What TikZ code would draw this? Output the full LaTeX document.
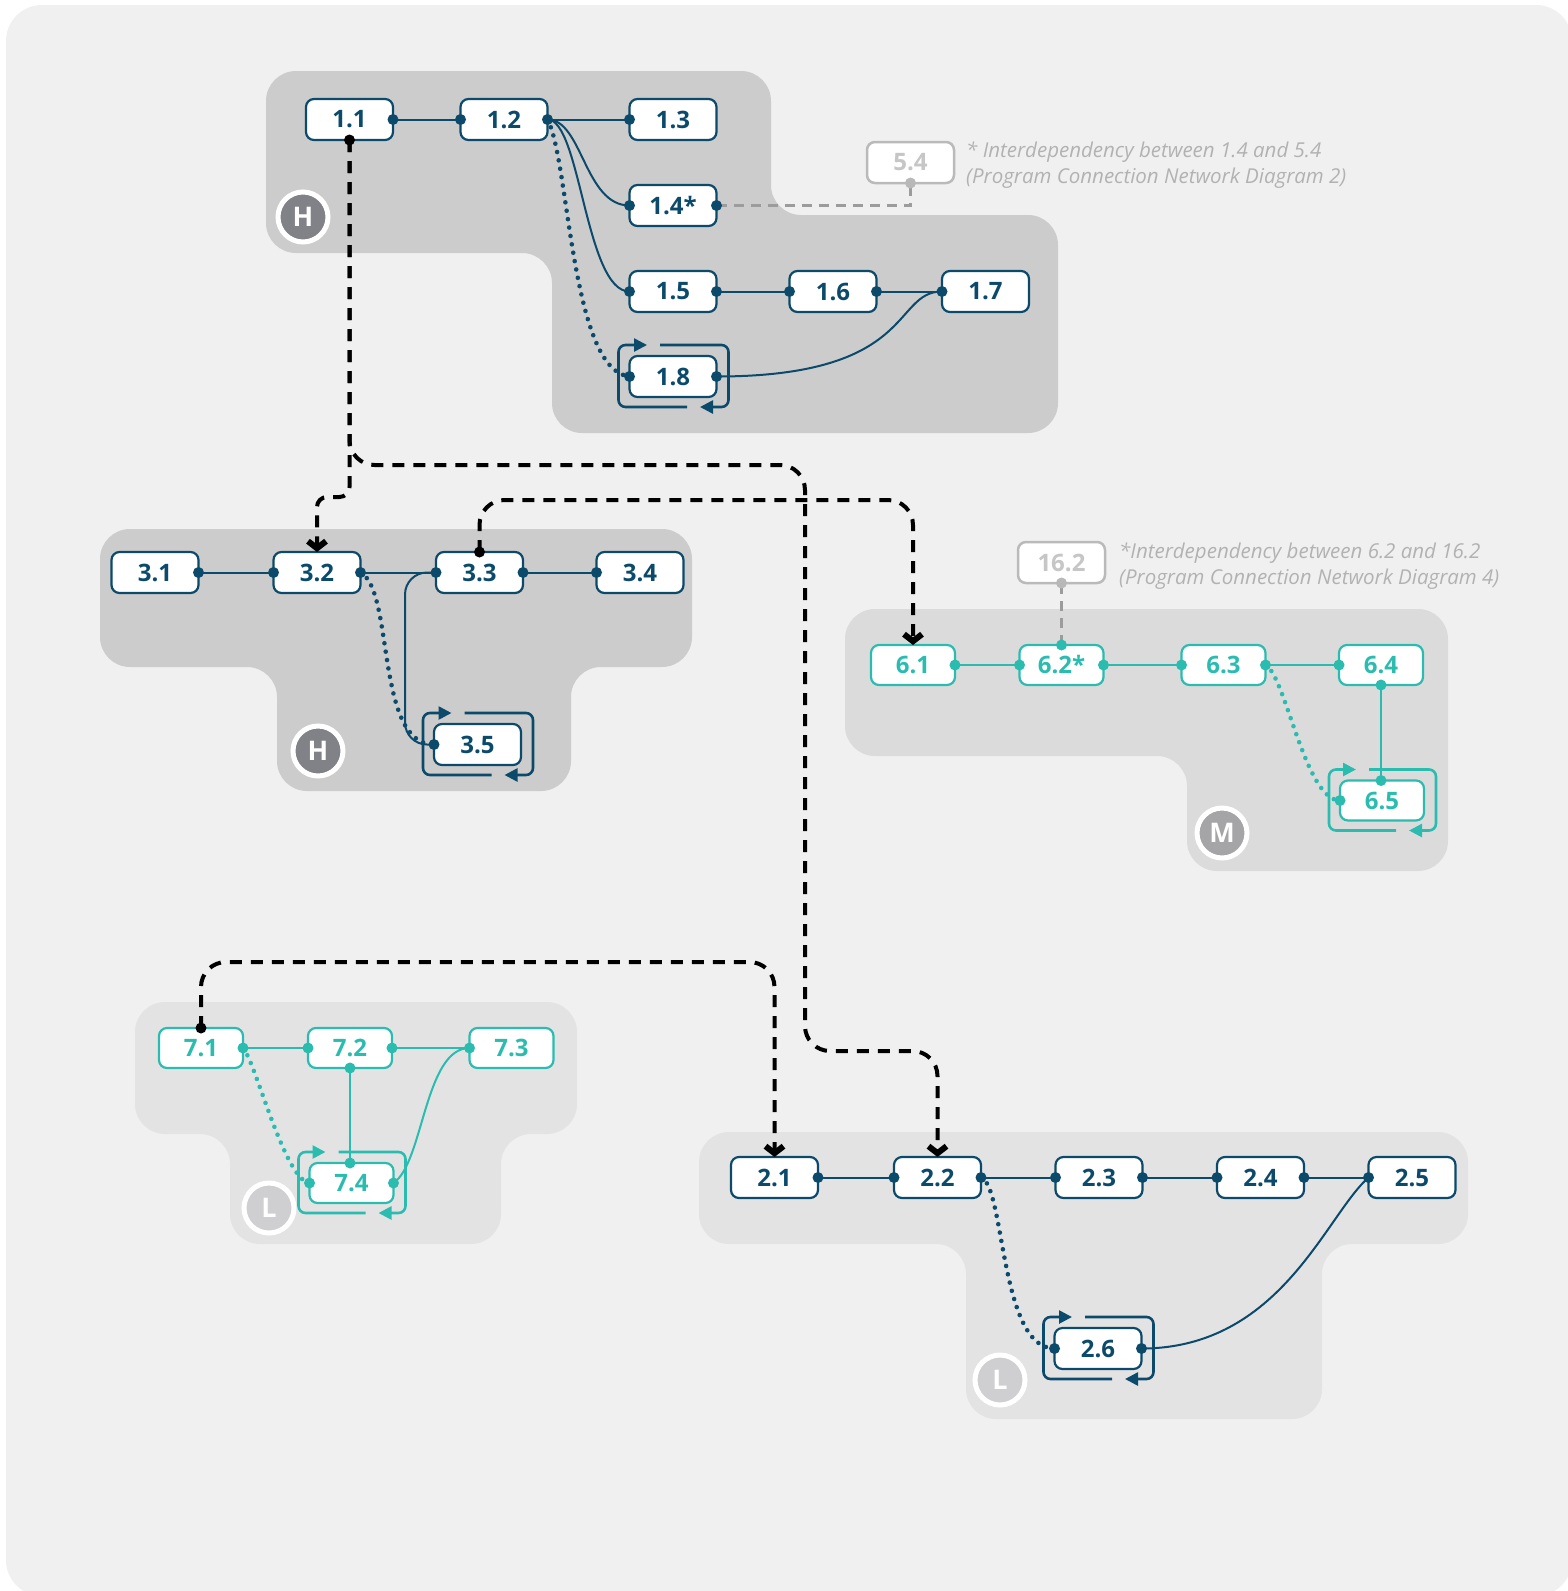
\documentclass[tikz,border=0pt]{standalone}
\usepackage{fontspec}
\setmainfont{Open Sans}
\usetikzlibrary{arrows.meta,calc}
\definecolor{dblue}{HTML}{0B4A6B}
\definecolor{tealc}{HTML}{2BBCB0}
\definecolor{bgc}{HTML}{F0F0F0}
\definecolor{hgrp}{HTML}{CCCCCC}
\definecolor{mgrp}{HTML}{DCDBDC}
\definecolor{lgrp}{HTML}{E4E3E4}
\definecolor{gbord}{HTML}{BABABA}
\definecolor{gtxt}{HTML}{C6C6C6}
\definecolor{gline}{HTML}{9C9C9C}
\definecolor{gdot}{HTML}{B8B8B8}
\definecolor{annotc}{HTML}{B2B2B2}
\definecolor{hbadge}{HTML}{808287}
\definecolor{mbadge}{HTML}{A5A5A8}
\definecolor{lbadge}{HTML}{CFCFD2}
\newcommand\loopbox[2]{%
 \draw[#2, line width=2.6pt, rounded corners=7pt, -{Triangle[length=13pt,width=13pt]}]
   ($(#1.south)+(14,10)$) -- ($(#1.south west)+(-11,10)$) -- ($(#1.north west)+(-11,-11)$) -- ($(#1.north)+(-26,-11)$);
 \draw[#2, line width=2.6pt, rounded corners=7pt, -{Triangle[length=13pt,width=13pt]}]
   ($(#1.north)+(-13,-11)$) -- ($(#1.north east)+(12,-11)$) -- ($(#1.south east)+(12,10)$) -- ($(#1.south)+(27,10)$);
}
\newcommand\dt[2]{\fill[#1] (#2) circle (5.5pt);}
\begin{document}
\begin{tikzpicture}[x=1pt,y=-1pt,
  box/.style={draw=dblue, line width=2.2pt, fill=white, rounded corners=8pt, minimum width=87pt, minimum height=41pt, inner sep=0pt, outer sep=0pt, text=dblue, font=\fontsize{24}{24}\selectfont\bfseries},
  tbox/.style={box, draw=tealc, text=tealc, minimum width=84pt, minimum height=40pt},
  gbox/.style={box, draw=gbord, text=gtxt, line width=2.5pt},
  grp/.style={rounded corners=30pt},
  link/.style={dblue, line width=2pt},
  tlink/.style={tealc, line width=2pt},
  dotl/.style={line width=4.6pt, dash pattern=on 0pt off 8.5pt, line cap=round},
  dep/.style={black, line width=4pt, dash pattern=on 12pt off 9pt, rounded corners=25pt},
  deparrow/.style={-{Straight Barb[length=7pt,width=18pt,line width=6pt]}},
  gdash/.style={gline, line width=2.5pt, dash pattern=on 10pt off 7pt},
  badge/.style={circle, draw=white, line width=5pt, minimum size=50pt, inner sep=0pt, text=white, font=\fontsize{27}{27}\selectfont\bfseries},
  annot/.style={text=annotc, font=\fontsize{20.5}{26}\selectfont\itshape, align=left, anchor=north west, inner sep=0pt},
]
\useasboundingbox (0,0) rectangle (1567,1591);
\fill[white] (0,0) rectangle (1567,1591);
\fill[bgc, rounded corners=36pt] (6,5) rectangle (1572,1596);

% groups
\fill[hgrp, grp] (500,71) -- (771,71) -- (771,215) -- (1058,215) -- (1058,433) -- (552,433) -- (552,253) -- (266,253) -- (266,71) -- cycle;
\fill[hgrp, grp] (400,529) -- (692,529) -- (692,667) -- (571,667) -- (571,791) -- (277,791) -- (277,667) -- (100,667) -- (100,529) -- cycle;
\fill[mgrp, grp] (1100,609) -- (1448,609) -- (1448,871) -- (1187,871) -- (1187,756) -- (845,756) -- (845,609) -- cycle;
\fill[lgrp, grp] (350,1002) -- (577,1002) -- (577,1134) -- (501,1134) -- (501,1244) -- (230,1244) -- (230,1134) -- (135,1134) -- (135,1002) -- cycle;
\fill[lgrp, grp] (1000,1132) -- (1468,1132) -- (1468,1244) -- (1322,1244) -- (1322,1419) -- (966,1419) -- (966,1244) -- (699,1244) -- (699,1132) -- cycle;

% badges
\node[badge, fill=hbadge] (b1) at (303,217) {H};
\node[badge, fill=hbadge] (b3) at (318,751) {H};
\node[badge, fill=mbadge] (b6) at (1222,833) {M};
\node[badge, fill=lbadge] (b7) at (269,1208) {L};
\node[badge, fill=lbadge] (b2) at (1000,1380) {L};

% annotations
\node[annot] (a1) at (966,142) {* Interdependency between 1.4 and 5.4\\(Program Connection Network Diagram 2)};
\node[annot] (a2) at (1119,543) {*Interdependency between 6.2 and 16.2\\(Program Connection Network Diagram 4)};

% nodes
\node[box] (n11) at (349.5,119.5) {1.1};
\node[box] (n12) at (504,119.5) {1.2};
\node[box] (n13) at (673,119.5) {1.3};
\node[box] (n14) at (673,205.5) {1.4*};
\node[box] (n15) at (673,291.5) {1.5};
\node[box] (n16) at (833,291.5) {1.6};
\node[box] (n17) at (985.5,291.5) {1.7};
\node[box] (n18) at (673,376.5) {1.8};
\node[gbox] (n54) at (910.5,162.5) {5.4};
\node[box] (n31) at (155,572.5) {3.1};
\node[box] (n32) at (317,572.5) {3.2};
\node[box] (n33) at (479.5,572.5) {3.3};
\node[box] (n34) at (640,572.5) {3.4};
\node[box] (n35) at (477.5,744.5) {3.5};
\node[tbox] (n61) at (913,665) {6.1};
\node[tbox] (n62) at (1061.5,665) {6.2*};
\node[tbox] (n63) at (1223.5,665) {6.3};
\node[tbox] (n64) at (1381,665) {6.4};
\node[tbox] (n65) at (1382,800.5) {6.5};
\node[gbox] (n162) at (1061.5,562.5) {16.2};
\node[tbox] (n71) at (201,1048) {7.1};
\node[tbox] (n72) at (350,1048) {7.2};
\node[tbox] (n73) at (511.5,1048) {7.3};
\node[tbox] (n74) at (351.5,1183) {7.4};
\node[box] (n21) at (774.5,1177.5) {2.1};
\node[box] (n22) at (937.5,1177.5) {2.2};
\node[box] (n23) at (1099,1177.5) {2.3};
\node[box] (n24) at (1260.5,1177.5) {2.4};
\node[box] (n25) at (1412,1177.5) {2.5};
\node[box] (n26) at (1098,1348.5) {2.6};

% loops
\loopbox{n18}{dblue}
\loopbox{n35}{dblue}
\loopbox{n65}{tealc}
\loopbox{n74}{tealc}
\loopbox{n26}{dblue}

% connectors group 1
\draw[link] (n11.east) -- (n12.west);
\draw[link] (n12.east) -- (n13.west);
\draw[link] (n12.east) .. controls +(35,0) and +(-45,0) .. (n14.west);
\draw[link] (n12.east) .. controls +(33,0) and +(-44,0) .. (n15.west);
\draw[link, dotl] (n12.east) .. controls +(22,40) and +(-59,-6) .. (n18.west);
\draw[link] (n15.east) -- (n16.west);
\draw[link] (n16.east) -- (n17.west);
\draw[link] (n18.east) .. controls +(200,0) and +(-50,0) .. (n17.west);
\draw[gdash] (n14.east) -| (n54.south);
% group 3
\draw[link] (n31.east) -- (n32.west);
\draw[link] (n32.east) -- (n33.west);
\draw[link] (n33.east) -- (n34.west);
\draw[link, rounded corners=22pt] (n33.west) -- ++(-31,0) |- (n35.west);
\draw[link, dotl] (n32.east) .. controls +(34,18) and +(-59,0) .. (n35.west);
% group 6
\draw[tlink] (n61.east) -- (n62.west);
\draw[tlink] (n62.east) -- (n63.west);
\draw[tlink] (n63.east) -- (n64.west);
\coordinate (n65t) at (n64.south |- n65.north);
\draw[tlink] (n64.south) -- (n65t);
\draw[tlink, dotl] (n63.east) .. controls +(20,10) and +(-35,0) .. (n65.west);
\draw[gdash] (n62.north) -- (n162.south);
% group 7
\draw[tlink] (n71.east) -- (n72.west);
\draw[tlink] (n72.east) -- (n73.west);
\coordinate (n74t) at (n72.south |- n74.north);
\draw[tlink] (n72.south) -- (n74t);
\draw[tlink, dotl] (n71.east) .. controls +(12,12) and +(-25,-3) .. (n74.west);
\draw[tlink] (n73.west) .. controls +(-45,0) and +(30,-20) .. (n74.east);
% group 2
\draw[link] (n21.east) -- (n22.west);
\draw[link] (n22.east) -- (n23.west);
\draw[link] (n23.east) -- (n24.west);
\draw[link] (n24.east) -- (n25.west);
\draw[link, dotl] (n22.east) .. controls +(24,8) and +(-55,0) .. (n26.west);
\draw[link] (n26.east) .. controls +(139,0) and +(-43,38) .. (n25.west);

% dependencies
\coordinate (jA) at (349.5,497);
\coordinate (jB1) at (349.5,465);
\coordinate (jB2) at (805,465);
\coordinate (jB3) at (805,1051);
\coordinate (jC) at (479.5,500);
\coordinate (jD) at (201,962);
\draw[dep, rounded corners=10pt, deparrow] (n11.south) -- (jA) -| (n32.north);
\draw[dep, deparrow] (n11.south) -- (jB1) -- (jB2) -- (jB3) -| (n22.north);
\draw[dep, deparrow] (n33.north) -- (jC) -| (n61.north);
\draw[dep, deparrow] (n71.north) -- (jD) -| (n21.north);
\fill[black] (n11.south) circle (5.5pt);
\fill[black] (n33.north) circle (5.5pt);
\fill[black] (n71.north) circle (5.5pt);

% dots
\foreach \a in {n11.east,n12.west,n12.east,n13.west,n14.west,n14.east,n15.west,n15.east,n16.west,n16.east,n17.west,n18.west,n18.east,n31.east,n32.west,n32.east,n33.west,n33.east,n34.west,n35.west,n21.east,n22.west,n22.east,n23.west,n23.east,n24.west,n24.east,n25.west,n26.west,n26.east}{\dt{dblue}{\a}}
\foreach \a in {n61.east,n62.west,n62.east,n63.west,n63.east,n64.west,n64.south,n65t,n65.west,n62.north,n71.east,n72.west,n72.east,n73.west,n72.south,n74t,n74.west,n74.east}{\dt{tealc}{\a}}
\dt{gdot}{n54.south}
\dt{gdot}{n162.south}
\end{tikzpicture}
\end{document}
